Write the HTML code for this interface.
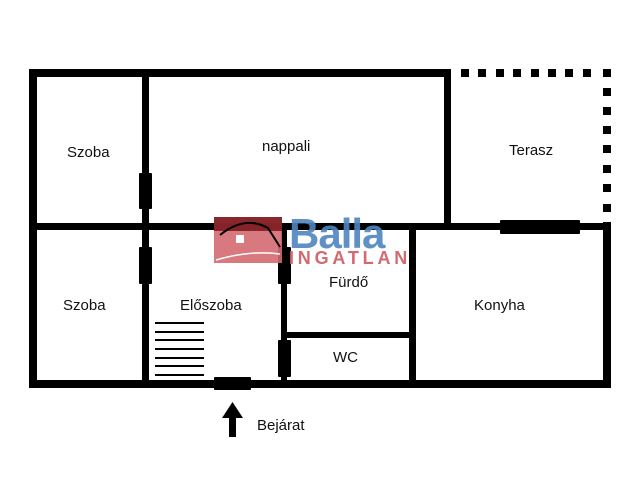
<!DOCTYPE html>
<html><head><meta charset="utf-8"><style>
html,body{margin:0;padding:0;background:#fff;}
svg{display:block;}
text{font-family:"Liberation Sans",sans-serif;font-size:15px;fill:#111;}
</style></head><body>
<svg width="640" height="480" viewBox="0 0 640 480">
<g fill="#000">
<rect x="29" y="69" width="421" height="8"/>
<rect x="29" y="69" width="8" height="319"/>
<rect x="29" y="380" width="582" height="8"/>
<rect x="603" y="222" width="8" height="166"/>
<rect x="29" y="223" width="582" height="7"/>
<rect x="142" y="69" width="7" height="319"/>
<rect x="444" y="69" width="7" height="160"/>
<rect x="281" y="223" width="6" height="165"/>
<rect x="409" y="223" width="7" height="165"/>
<rect x="281" y="332" width="135" height="6"/>
<rect x="139" y="173" width="13" height="36" rx="1"/>
<rect x="139" y="247" width="13" height="37" rx="1"/>
<rect x="278" y="247" width="13" height="37" rx="1"/>
<rect x="278" y="340" width="13" height="37" rx="1"/>
<rect x="214" y="377" width="37" height="13" rx="1"/>
<rect x="500" y="220" width="80" height="14" rx="1"/>
<rect x="461" y="69" width="8" height="8"/><rect x="478" y="69" width="8" height="8"/>
<rect x="496" y="69" width="8" height="8"/><rect x="513" y="69" width="8" height="8"/>
<rect x="531" y="69" width="8" height="8"/><rect x="548" y="69" width="8" height="8"/>
<rect x="565" y="69" width="8" height="8"/><rect x="583" y="69" width="8" height="8"/>
<rect x="603" y="69" width="8" height="8"/>
<rect x="603" y="88" width="8" height="8"/><rect x="603" y="107" width="8" height="8"/>
<rect x="603" y="126" width="8" height="8"/><rect x="603" y="145" width="8" height="8"/>
<rect x="603" y="165" width="8" height="8"/><rect x="603" y="184" width="8" height="8"/>
<rect x="603" y="204" width="8" height="8"/>
<rect x="155" y="322" width="49" height="2"/><rect x="155" y="331" width="49" height="2"/>
<rect x="155" y="339" width="49" height="2"/><rect x="155" y="348" width="49" height="2"/>
<rect x="155" y="357" width="49" height="2"/><rect x="155" y="365" width="49" height="2"/>
<rect x="155" y="374" width="49" height="2"/>
<rect x="229" y="414" width="7" height="23"/>
<polygon points="232.5,402 222,418 243,418"/>
</g>
<rect x="214" y="217" width="68" height="46" fill="#d36a70" opacity="0.9"/>
<rect x="214" y="217" width="68" height="14" fill="#7a1a1e" opacity="0.85"/>
<rect x="236" y="235" width="8" height="8" fill="#fff"/>
<path d="M216 260 Q250 250 280 254" stroke="#fff" stroke-width="1.5" fill="none"/>
<path d="M220 235 Q245 215 268 228 L280 247" stroke="#000" stroke-width="2" fill="none"/>
<text x="289" y="248" style="font-size:42px;font-weight:bold;fill:#4f86c0;opacity:0.9;letter-spacing:-1px">Balla</text>
<text x="289" y="264" style="font-size:18px;fill:#d36a70;letter-spacing:3.8px;font-weight:bold">INGATLAN</text>
<text x="67" y="157">Szoba</text>
<text x="262" y="151">nappali</text>
<text x="509" y="155">Terasz</text>
<text x="63" y="310">Szoba</text>
<text x="180" y="310">Előszoba</text>
<text x="329" y="287">Fürdő</text>
<text x="333" y="362">WC</text>
<text x="474" y="310">Konyha</text>
<text x="257" y="430">Bejárat</text>
</svg>
</body></html>
